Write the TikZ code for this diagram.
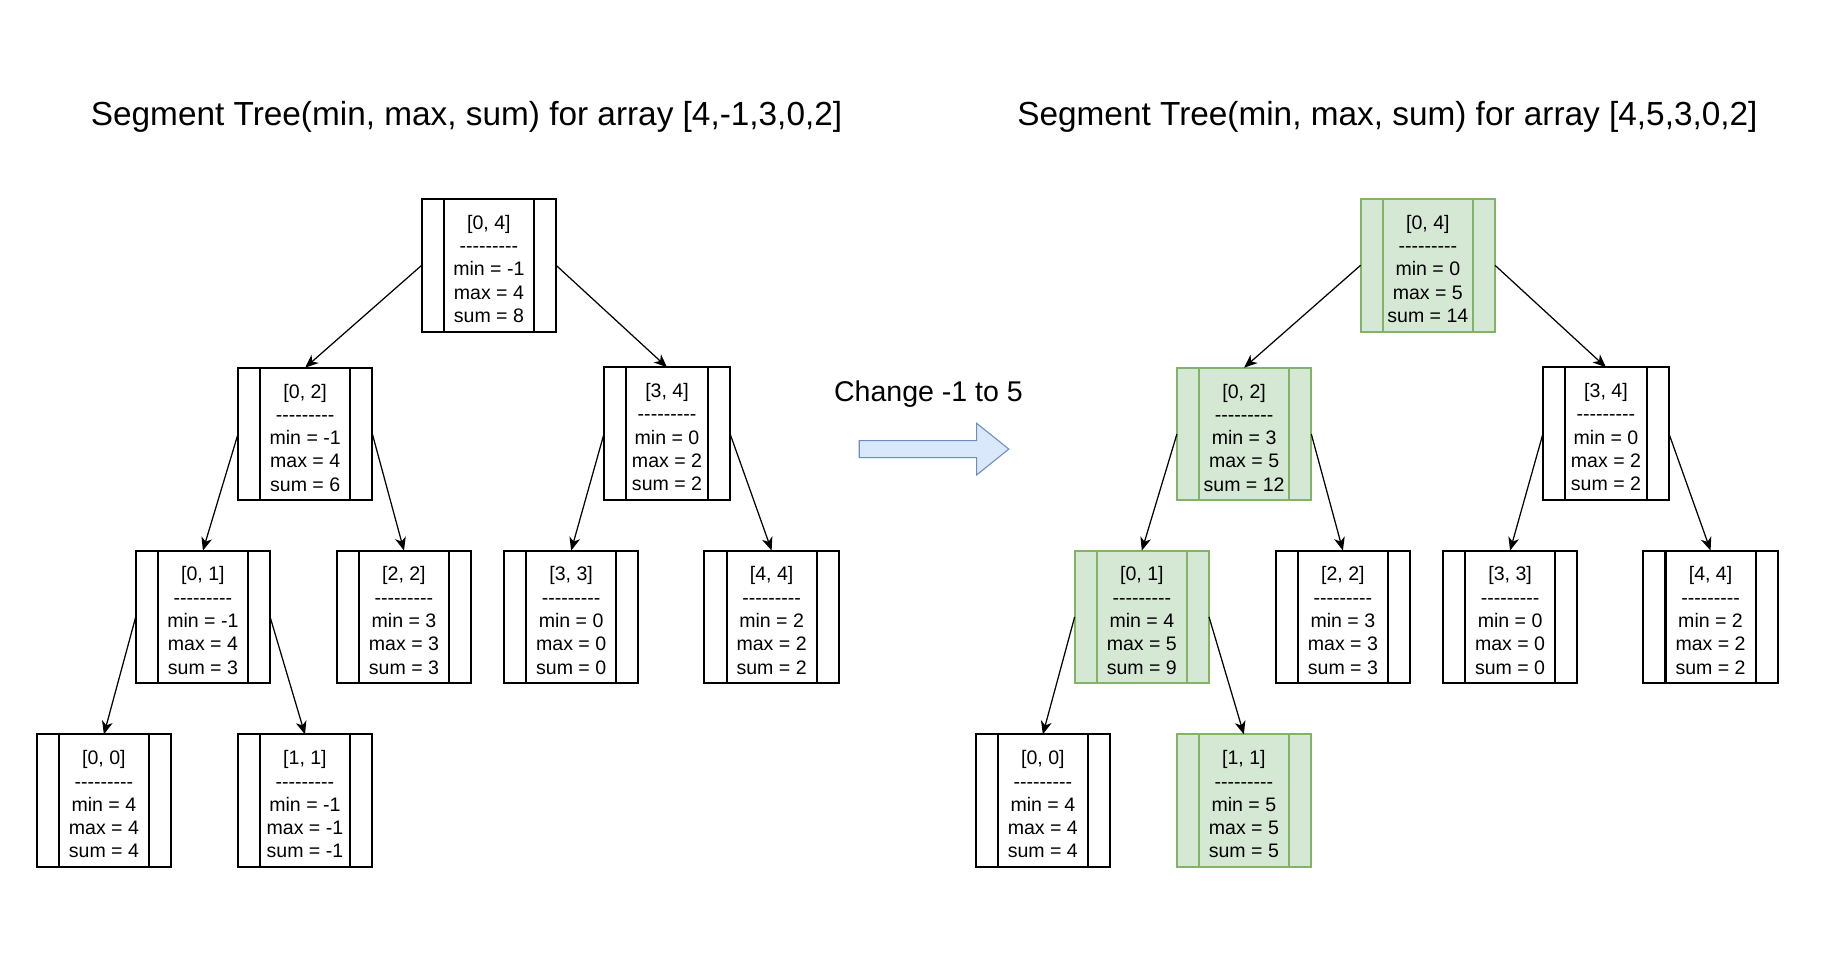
\documentclass[tikz,border=0pt]{standalone}
\usepackage{fontspec}
\newfontfamily\arial{Liberation Sans}
\usetikzlibrary{arrows.meta}
\definecolor{gfill}{HTML}{D5E8D4}
\definecolor{gline}{HTML}{82B366}
\definecolor{bfill}{HTML}{DAE8FC}
\definecolor{bline}{HTML}{6C8EBF}
\newcommand\segtext[4]{\rule{0pt}{13.8pt}[#1]\\---------\\min = #2\\max = #3\\sum = #4}
\tikzset{
  segbox/.style={draw=#1, line width=1.3pt, rectangle, inner sep=0pt, outer sep=0pt,
    minimum width=86.6pt, minimum height=85.5pt, align=center,
    font=\arial\fontsize{12.6}{15}\selectfont,
    path picture={\draw[#1, line width=1.3pt]
      ([xshift=14.25pt]path picture bounding box.north west) -- ([xshift=14.25pt]path picture bounding box.south west)
      ([xshift=-14.25pt]path picture bounding box.north east) -- ([xshift=-14.25pt]path picture bounding box.south east);}},
  wbox/.style={segbox=black, fill=white},
  gbox/.style={segbox=gline, fill=gfill},
  narrow/.style={minimum width=81.2pt},
  link/.style={-{Stealth[length=8.5pt,width=7pt,inset=2.5pt]}, line width=0.8pt},
  titletext/.style={font=\arial\fontsize{21.5}{26}\selectfont, anchor=base, inner sep=0pt},
  changetext/.style={font=\arial\fontsize{18.4}{22}\selectfont, anchor=base, inner sep=0pt},
}
\begin{document}
\begin{tikzpicture}[x=0.75pt,y=-0.75pt]
\fill[white] (0,0) rectangle (1566,837);
\useasboundingbox (0,0) rectangle (1566,837);

% titles
\node[titletext] (t1) at (401,108.3) {Segment Tree(min, max, sum) for array [4,-1,3,0,2]};
\node[titletext] (t2) at (1192.5,108.3) {Segment Tree(min, max, sum) for array [4,5,3,0,2]};
\node[changetext] (chg) at (798,345.2) {Change -1 to 5};

% block arrow
\draw[fill=bfill, draw=bline, line width=0.7pt, line join=miter]
  (738.5,378.7) -- (839.4,378.7) -- (839.4,363.8) -- (867.1,386) -- (839.4,408.2)
  -- (839.4,393.3) -- (738.5,393.3) -- cycle;

% left tree
\node[wbox] (n04) at (420.2,228) {\segtext{0, 4}{-1}{4}{8}};
\node[wbox] (n02) at (262.3,373) {\segtext{0, 2}{-1}{4}{6}};
\node[wbox,narrow] (n34) at (573.3,372.7) {\segtext{3, 4}{0}{2}{2}};
\node[wbox] (n01) at (174.4,530.2) {\segtext{0, 1}{-1}{4}{3}};
\node[wbox] (n22) at (347.2,530.2) {\segtext{2, 2}{3}{3}{3}};
\node[wbox] (n33) at (490.9,530.2) {\segtext{3, 3}{0}{0}{0}};
\node[wbox] (n44) at (663.2,530.2) {\segtext{4, 4}{2}{2}{2}};
\node[wbox] (n00) at (89.3,688.2) {\segtext{0, 0}{4}{4}{4}};
\node[wbox] (n11) at (262.1,688.2) {\segtext{1, 1}{-1}{-1}{-1}};

\draw[link] (n04.west) -- (n02.north);
\draw[link] (n04.east) -- (n34.north);
\draw[link] (n02.west) -- (n01.north);
\draw[link] (n02.east) -- (n22.north);
\draw[link] (n34.west) -- (n33.north);
\draw[link] (n34.east) -- (n44.north);
\draw[link] (n01.west) -- (n00.north);
\draw[link] (n01.east) -- (n11.north);

% right tree
\node[gbox] (m04) at (1227.2,228) {\segtext{0, 4}{0}{5}{14}};
\node[gbox] (m02) at (1069.3,373) {\segtext{0, 2}{3}{5}{12}};
\node[wbox,narrow] (m34) at (1380.3,372.7) {\segtext{3, 4}{0}{2}{2}};
\node[gbox] (m01) at (981.4,530.2) {\segtext{0, 1}{4}{5}{9}};
\node[wbox] (m22) at (1154.2,530.2) {\segtext{2, 2}{3}{3}{3}};
\node[wbox] (m33) at (1297.9,530.2) {\segtext{3, 3}{0}{0}{0}};
\node[wbox] (m44) at (1470.2,530.2) {\segtext{4, 4}{2}{2}{2}};
\node[wbox] (m00) at (896.3,688.2) {\segtext{0, 0}{4}{4}{4}};
\node[gbox] (m11) at (1069.1,688.2) {\segtext{1, 1}{5}{5}{5}};

\draw[link] (m04.west) -- (m02.north);
\draw[link] (m04.east) -- (m34.north);
\draw[link] (m02.west) -- (m01.north);
\draw[link] (m02.east) -- (m22.north);
\draw[link] (m34.west) -- (m33.north);
\draw[link] (m34.east) -- (m44.north);
\draw[link] (m01.west) -- (m00.north);
\draw[link] (m01.east) -- (m11.north);
\end{tikzpicture}
\end{document}
